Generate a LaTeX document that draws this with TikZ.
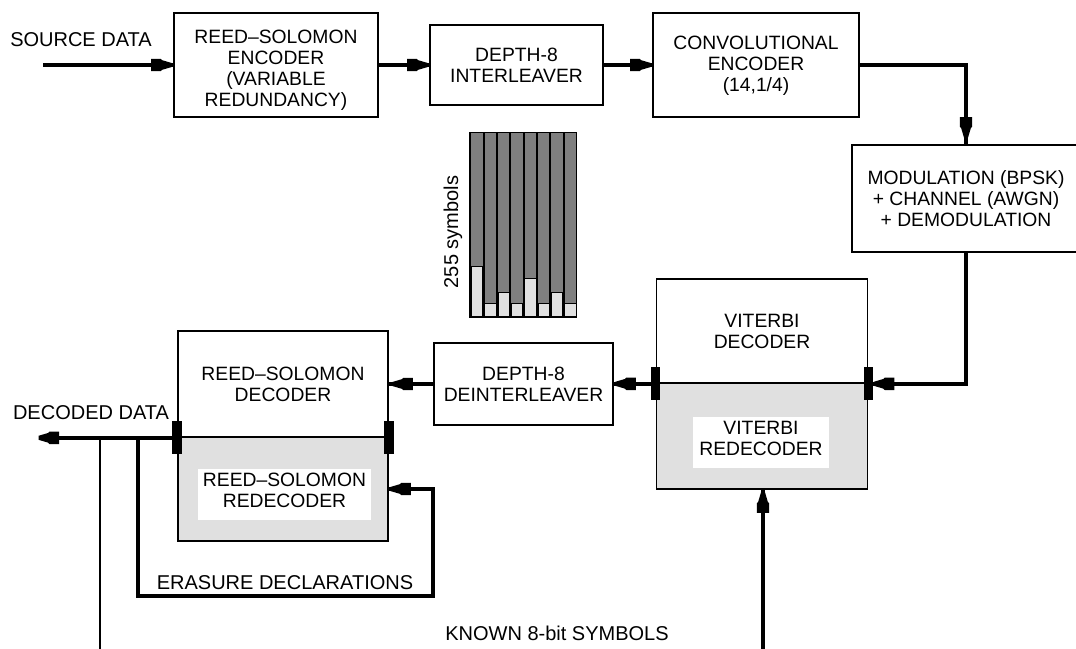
\documentclass[tikz,border=0pt]{standalone}
\usepackage{fontspec}
\setmainfont{Liberation Sans}
\definecolor{lg}{HTML}{E0E0E0}
\definecolor{dg}{HTML}{7F7F7F}
\begin{document}
\begin{tikzpicture}[x=1pt,y=-1pt,
  txt/.style={font=\fontsize{19.3}{21}\selectfont},
  ltxt/.style={font=\fontsize{20}{21}\selectfont},
  box/.style={draw,line width=1.6pt,inner sep=0pt,align=center,txt},
  tbox/.style={inner sep=0pt,align=center,txt},
  lbl/.style={inner sep=0pt,ltxt},
  inner/.style={fill=white,inner sep=0pt,align=center,txt},
  bar/.style={fill=black,inner sep=0pt,minimum width=9.5pt,minimum height=33pt},
  wire/.style={line width=3.4pt},
  thinw/.style={line width=1.6pt},
  ahead/.pic={\fill (0.5,-2) -- (-9,-4.8) -- (-10.5,-6.2) -- (-20,-6.2) -- (-20,6.2) -- (-10.5,6.2) -- (-9,4.8) -- (0.5,2) -- cycle;}
]
\useasboundingbox (0,0) rectangle (1076,648);

% top row
\node[lbl] (src) at (81,40) {SOURCE DATA};
\coordinate (srcin) at (43,65);
\node[box,minimum width=204pt,minimum height=104pt] (rsenc) at (276,65) {};
\node[tbox] (rsenctxt) at (276,70.5) {REED–SOLOMON\\ENCODER\\(VARIABLE\\REDUNDANCY)};
\node[box,minimum width=173pt,minimum height=80pt] (intl) at (516.5,65) {DEPTH-8\\INTERLEAVER};
\node[box,minimum width=206pt,minimum height=104pt] (conv) at (756,65) {};
\node[tbox] (convtxt) at (756,66) {CONVOLUTIONAL\\ENCODER\\(14,1/4)};
\node[box,minimum width=228pt,minimum height=107pt] (mod) at (966,198.5) {MODULATION (BPSK)\\+ CHANNEL (AWGN)\\+ DEMODULATION};

\draw[wire] (srcin) -- (rsenc.west);
\path (rsenc.west) ++(-2,0) pic {ahead};
\draw[wire] (rsenc.east) -- (intl.west);
\path (intl.west) ++(-2,0) pic {ahead};
\draw[wire] (intl.east) -- (conv.west);
\path (conv.west) ++(-2,0) pic {ahead};
\draw[wire] (conv.east) -| (mod.north);
\path (mod.north) ++(0,-7) pic[rotate=-90] {ahead};

% interleaver illustration
\fill[black] (469,132) rectangle (577,318);
\foreach \i/\t in {0/266,1/303,2/292,3/303,4/278,5/303,6/292,7/303} {
  \fill[dg] ({471.4+\i*13.33},133.4) rectangle ({482.7+\i*13.33},316.6);
  \filldraw[fill=lg,draw=black,line width=0.9pt] ({471.4+\i*13.33},\t) rectangle ({482.7+\i*13.33},316.6);
}
\node[lbl,rotate=90] (sym) at (453,232) {255 symbols};

% Viterbi
\node[box,minimum width=211pt,minimum height=104pt] (vdec) at (762,331) {VITERBI\\DECODER};
\node[box,fill=lg,minimum width=211pt,minimum height=106pt] (vre) at (762,436) {};
\node[inner,minimum width=136pt,minimum height=51pt] (vretxt) at (761,442.5) {};
\node[tbox] (vretxtt) at (761,438.5) {VITERBI\\REDECODER};
\node[bar] (vbl) at (vdec.south west) {};
\node[bar] (vbr) at (vdec.south east) {};

\draw[wire] (mod.south) |- (vbr.east);
\path (vbr.east) ++(1,0) pic[rotate=180] {ahead};

% deinterleaver
\node[box,minimum width=179pt,minimum height=82pt] (deint) at (523.5,384) {DEPTH-8\\DEINTERLEAVER};
\draw[wire] (vbl.west) -- (vbl.west -| deint.east);
\path (vbl.west -| deint.east) ++(2,0) pic[rotate=180] {ahead};

% Reed-Solomon decoder
\node[box,minimum width=210pt,minimum height=106pt] (rsdec) at (283,384) {REED–SOLOMON\\DECODER};
\node[box,fill=lg,minimum width=210pt,minimum height=104pt] (rsre) at (283,489) {};
\node[inner,minimum width=173pt,minimum height=51pt] (rsretxt) at (284.5,494.5) {};
\node[tbox] (rsretxtt) at (284.5,490) {REED–SOLOMON\\REDECODER};
\node[bar] (rsbl) at (rsdec.south west) {};
\node[bar] (rsbr) at (rsdec.south east) {};

\draw[wire] (deint.west) -- (deint.west -| rsdec.east);
\path (deint.west -| rsdec.east) ++(4,0) pic[rotate=180] {ahead};

% decoded output
\coordinate (dout) at (39,0);
\draw[wire] (rsbl.west) -- (rsbl.west -| dout);
\path (rsbl.west -| dout) pic[rotate=180] {ahead};
\node[lbl] (dec) at (91,413) {DECODED DATA};
\coordinate (tb) at (100,652);
\draw[thinw] (rsbl.west -| tb) -- (tb);

% erasure feedback
\coordinate (e1) at (138,596);
\coordinate (e2) at (433,596);
\draw[wire] (rsbl.west -| e1) -- (e1) -- (e2) |- (rsre.east);
\path (rsre.east) ++(2,0) pic[rotate=180] {ahead};
\node[lbl] (eras) at (285,583) {ERASURE DECLARATIONS};

% known symbols
\coordinate (kb) at (763,652);
\draw[wire] (kb) -- (kb |- vre.south);
\path (kb |- vre.south) ++(0,3) pic[rotate=90] {ahead};
\node[lbl] (known) at (557,633) {KNOWN 8-bit SYMBOLS};
\end{tikzpicture}
\end{document}
